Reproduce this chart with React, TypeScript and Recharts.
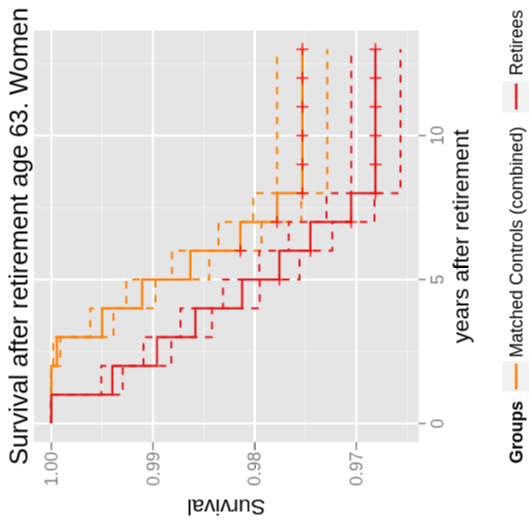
import React from "react";
import { LineChart, Line, XAxis, YAxis, CartesianGrid } from "recharts";

// time (years after retirement)
const years = [0, 1, 2, 3, 4, 5, 6, 7, 8, 9, 10, 11, 12, 13];

// Matched Controls (combined)
const matchedSurv = [1.0, 1.0, 0.99946, 0.99501, 0.99107, 0.98632, 0.9814, 0.97779, 0.9753, 0.9753, 0.9753, 0.9753, 0.9753, 0.9753];
const matchedUpper = [1.0, 1.0, 0.9998, 0.99616, 0.99262, 0.98812, 0.98356, 0.98012, 0.97779, 0.97779, 0.97779, 0.97779, 0.97779, 0.97779];
const matchedLower = [1.0, 1.0, 0.99911, 0.99387, 0.98976, 0.98445, 0.97933, 0.97542, 0.97286, 0.97286, 0.97286, 0.97286, 0.97286, 0.97286];

// Retirees
const retireesSurv = [1.0, 0.994, 0.9896, 0.98583, 0.98123, 0.97756, 0.97451, 0.9705, 0.96811, 0.96811, 0.96811, 0.96811, 0.96811, 0.96811];
const retireesUpper = [1.0, 0.99508, 0.99092, 0.9873, 0.9831, 0.97953, 0.97664, 0.97293, 0.9705, 0.9705, 0.9705, 0.9705, 0.9705, 0.9705];
const retireesLower = [1.0, 0.99298, 0.98819, 0.98418, 0.9795, 0.97559, 0.97237, 0.96821, 0.96565, 0.96565, 0.96565, 0.96565, 0.96565, 0.96565];

// censoring times
const matchedCensorYears = [6, 7, 8, 9, 10, 11, 12, 13];
const retireesCensorYears = [5, 6, 7, 8, 9, 10, 11, 12, 13];

const yearTicks = [0, 5, 10];
const yearMinor = [2.5, 7.5, 12.5];
const survivalTicks = [0.97, 0.98, 0.99, 1.0];
const survivalMinor = [0.965, 0.975, 0.985, 0.995];

const title = "Survival after retirement age 63. Women";
const xTitle = "years after retirement";
const yTitle = "Survival";
const legendTitle = "Groups";
const groupNames = ["Matched Controls (combined)", "Retirees"];

const ORANGE = "#FF7F00";
const RED = "#E41A1C";
const FONT = "'Liberation Sans', Arial, Helvetica, sans-serif";

const data = years.map((t, i) => ({
  t,
  mS: matchedSurv[i],
  mU: matchedUpper[i],
  mL: matchedLower[i],
  rS: retireesSurv[i],
  rU: retireesUpper[i],
  rL: retireesLower[i],
  mC: matchedCensorYears.includes(t) ? matchedSurv[i] : null,
  rC: retireesCensorYears.includes(t) ? retireesSurv[i] : null,
}));

const PlusDot = (props: any) => {
  const { cx, cy, value, index } = props;
  if (cx == null || cy == null || value == null || Number.isNaN(cy)) return <g key={"p" + index} />;
  const s = 6;
  return (
    <g key={"p" + index} opacity={0.85}>
      <line x1={cx - s} y1={cy} x2={cx + s} y2={cy} stroke="#FF0000" strokeWidth={1.6} />
      <line x1={cx} y1={cy - s} x2={cx} y2={cy + s} stroke="#FF0000" strokeWidth={1.6} />
    </g>
  );
};

const W = 522;
const H = 529;

export default function App() {
  const tickStyle = { fill: "#7F7F7F", fontSize: 17.6, fontFamily: FONT };
  return (
    <div
      style={{
        position: "fixed",
        left: 3.5,
        top: -3.5,
        width: W,
        height: H,
        transform: "rotate(-90deg)",
        transformOrigin: "center center",
        background: "#FFFFFF",
      }}
    >
      <LineChart width={W} height={H} data={data} margin={{ top: 33.3, right: 30, bottom: 0, left: 0 }}>
        <CartesianGrid
          fill="#E5E5E5"
          fillOpacity={1}
          stroke="#F2F2F2"
          strokeWidth={1}
          horizontalValues={survivalMinor}
          verticalValues={yearMinor}
        />
        <CartesianGrid
          stroke="#FFFFFF"
          strokeWidth={2}
          horizontalValues={survivalTicks}
          verticalValues={yearTicks}
        />
        <XAxis
          dataKey="t"
          type="number"
          domain={[-0.65, 13.65]}
          ticks={yearTicks}
          allowDataOverflow
          axisLine={false}
          tickSize={7}
          tickMargin={5}
          tickLine={{ stroke: "#7F7F7F", strokeWidth: 1.5 }}
          tick={tickStyle}
          height={110.7}
          interval={0}
        />
        <YAxis
          type="number"
          domain={[0.963844, 1.001723]}
          ticks={survivalTicks}
          allowDataOverflow
          axisLine={false}
          tickSize={8}
          tickMargin={1.5}
          tickLine={{ stroke: "#7F7F7F", strokeWidth: 1.5 }}
          tick={tickStyle}
          tickFormatter={(v: number) => v.toFixed(2)}
          width={80.3}
          interval={0}
        />
        <Line type="stepAfter" dataKey="mU" stroke={ORANGE} strokeWidth={2} strokeDasharray="7.5 7.5" dot={false} activeDot={false} isAnimationActive={false} />
        <Line type="stepAfter" dataKey="mL" stroke={ORANGE} strokeWidth={2} strokeDasharray="7.5 7.5" dot={false} activeDot={false} isAnimationActive={false} />
        <Line type="stepAfter" dataKey="mS" stroke={ORANGE} strokeWidth={2.2} dot={false} activeDot={false} isAnimationActive={false} />
        <Line type="stepAfter" dataKey="rU" stroke={RED} strokeWidth={2} strokeDasharray="7.5 7.5" dot={false} activeDot={false} isAnimationActive={false} />
        <Line type="stepAfter" dataKey="rL" stroke={RED} strokeWidth={2} strokeDasharray="7.5 7.5" dot={false} activeDot={false} isAnimationActive={false} />
        <Line type="stepAfter" dataKey="rS" stroke={RED} strokeWidth={2.2} dot={false} activeDot={false} isAnimationActive={false} />
        <Line dataKey="mC" stroke="none" dot={PlusDot} activeDot={false} isAnimationActive={false} connectNulls={false} />
        <Line dataKey="rC" stroke="none" dot={PlusDot} activeDot={false} isAnimationActive={false} connectNulls={false} />
      </LineChart>
      <svg
        width={W}
        height={H}
        style={{ position: "absolute", left: 0, top: 0, pointerEvents: "none", overflow: "visible" }}
      >
        <text x={286.2} y={27} textAnchor="middle" fontSize={25.5} fontFamily={FONT} fill="#000">
          {title}
        </text>
        <text x={286.2} y={468} textAnchor="middle" fontSize={22.5} fontFamily={FONT} fill="#000">
          {xTitle}
        </text>
        <text
          transform="translate(23,225.8) rotate(-90)"
          x={0}
          y={0}
          textAnchor="middle"
          fontSize={22}
          fontFamily={FONT}
          fill="#000"
        >
          {yTitle}
        </text>
        <text x={59} y={522} fontSize={17.6} fontWeight="bold" fontFamily={FONT} fill="#000">
          {legendTitle}
        </text>
        <rect x={131} y={501} width={30} height={30} fill="#F2F2F2" />
        <line x1={133} y1={515.7} x2={159} y2={515.7} stroke={ORANGE} strokeWidth={2.5} />
        <text x={165} y={522} fontSize={17.6} fontFamily={FONT} fill="#000">
          {groupNames[0]}
        </text>
        <rect x={410} y={501} width={31} height={30} fill="#F2F2F2" />
        <line x1={413} y1={515.7} x2={439} y2={515.7} stroke={RED} strokeWidth={2.5} />
        <text x={447} y={522} fontSize={17.6} fontFamily={FONT} fill="#000">
          {groupNames[1]}
        </text>
      </svg>
    </div>
  );
}
